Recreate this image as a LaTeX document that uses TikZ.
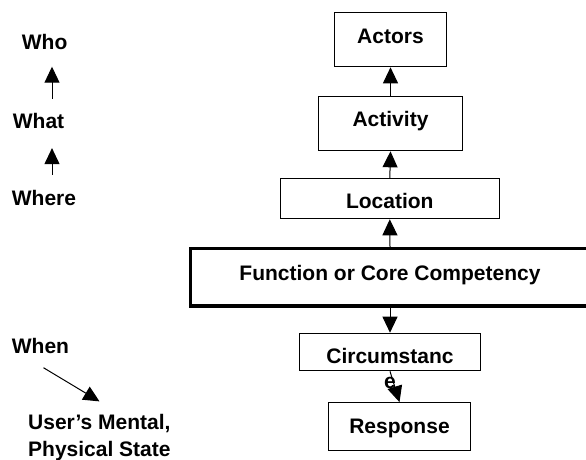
\documentclass[tikz,border=0pt]{standalone}
\usepackage{fontspec}
\setmainfont{Liberation Sans}
\usepackage{tikz}
\usetikzlibrary{arrows.meta,calc}
\tikzset{>={Triangle[length=16pt,width=15pt]}}
\tikzset{box/.style={draw,line width=1.2pt,inner sep=0pt,anchor=base,font=\fontsize{21}{25}\selectfont\bfseries}}
\tikzset{corebox/.style={box,line width=3.5pt}}
\tikzset{lbl/.style={inner sep=0pt,anchor=base west,align=left,font=\fontsize{21}{26.7}\selectfont\bfseries}}
\tikzset{link/.style={->,line width=1pt}}

\begin{document}
\begin{tikzpicture}[x=1pt,y=-1pt]
  \useasboundingbox (0,0) rectangle (586,459);

  % Boxes
  \node[box,minimum width=112.4pt,text height=30.7pt,text depth=23.7pt] (actors) at (390.5,43) {Actors};
  \node[box,minimum width=144.4pt,text height=30pt,text depth=24pt] (activity) at (390.5,126.7) {Activity};
  \node[box,minimum width=219pt,text height=29.6pt,text depth=10.4pt] (location) at (389.8,208.3) {Location};
  \node[corebox,minimum width=398.6pt,text height=31.3pt,text depth=26pt] (core) at (390,280) {Function or Core Competency};
  \node[box,minimum width=181.4pt,text height=30pt,text depth=7.4pt] (circ) at (390,363.3)
    {\begin{tabular}[t]{@{}c@{}}Circumstanc\\e\end{tabular}};
  \node[box,minimum width=142.4pt,text height=30.6pt,text depth=17.4pt] (response) at (399.5,433.3) {Response};

  % Labels
  \node[lbl] (who) at (21.7,49.3) {Who};
  \node[lbl] (what) at (12.7,128.7) {What};
  \node[lbl] (where) at (11.7,205) {Where};
  \node[lbl] (when) at (11.7,353.3) {When};
  \node[lbl] (state) at (28,456.2) {User’s Mental,\\Physical State};

  % Lines
  \draw[link] (activity.north) -- (actors.south);
  \draw[link] (location.north) -- (activity.south);
  \draw[link] (core.north) -- (location.south);
  \draw[link] (core.south) -- (circ.north);
  \draw[link] (circ.south) -- (response.north);

  \coordinate (stem) at (52,0);
  \draw[link,shorten <=14.7pt,shorten >=17pt] (what.north -| stem) -- (who.south -| stem);
  \draw[link,shorten <=15pt,shorten >=19pt] (where.north -| stem) -- (what.south -| stem);
  \draw[link] ($(when.south)+(3,14)$) -- ($(state.north west)+(71.5,-12.7)$);
\end{tikzpicture}
\end{document}
